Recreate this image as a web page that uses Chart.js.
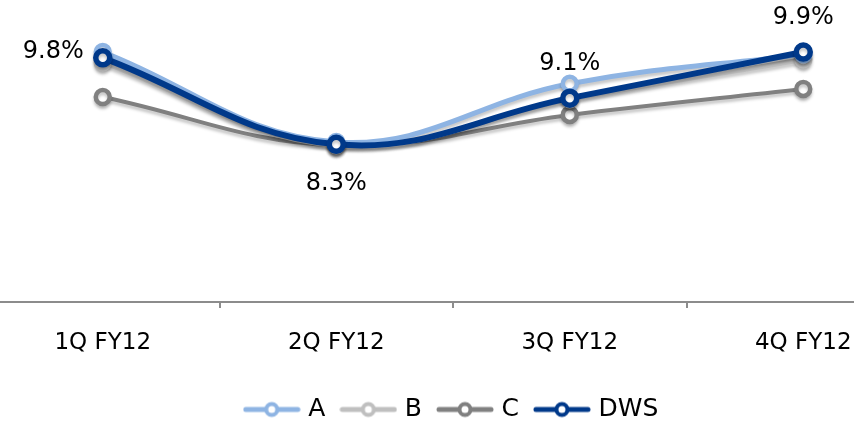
<!DOCTYPE html>
<html>
<head>
<meta charset="utf-8">
<script src="https://cdn.jsdelivr.net/npm/chart.js@4.4.0/dist/chart.umd.min.js"></script>
<style>
html, body { margin: 0; padding: 0; background: #fff; overflow: hidden; }
#wrap { position: absolute; left: -14px; top: 0; width: 934px; height: 423px; }
</style>
</head>
<body>
<div id="wrap"><canvas id="myChart"></canvas></div>
<script>
const quarters = ['1Q FY12', '2Q FY12', '3Q FY12', '4Q FY12'];
const seriesA = [9.90, 8.34, 9.35, 9.86];
const seriesB = [9.72, 8.28, 9.08, 9.77];
const seriesC = [9.12, 8.28, 8.81, 9.26];
const seriesDWS = [9.8, 8.3, 9.1, 9.9];
const dwsLabels = ['9.8%', '8.3%', '9.1%', '9.9%'];

const FONT = '"DejaVu Sans", sans-serif';

// little line + ring used as legend marker
const legendMarker = (color) => {
  const c = document.createElement('canvas');
  c.width = 58; c.height = 20;
  const g = c.getContext('2d');
  g.strokeStyle = color;
  g.lineWidth = 5;
  g.lineCap = 'round';
  g.beginPath(); g.moveTo(3, 10); g.lineTo(55, 10); g.stroke();
  g.beginPath(); g.arc(29, 10, 5.5, 0, Math.PI * 2);
  g.fillStyle = '#fff'; g.fill();
  g.lineWidth = 4; g.stroke();
  return c;
};

const line = (label, data, color, width, ptBorder, order) => ({
  label: label,
  data: data,
  borderColor: color,
  backgroundColor: color,
  borderWidth: width,
  tension: 0.4,
  pointRadius: 7,
  pointBorderWidth: ptBorder,
  pointBackgroundColor: '#fff',
  pointBorderColor: color,
  order: order,
  clip: false,
  marker: legendMarker(color)
});

// DWS values printed beside its points
const valueLabels = {
  id: 'valueLabels',
  afterDatasetsDraw(chart) {
    const ctx = chart.ctx;
    const meta = chart.getDatasetMeta(3);
    const offs = [[-19, -6, 'right'], [0, 39, 'center'], [0, -34, 'center'], [0, -34, 'center']];
    ctx.save();
    ctx.font = '24px ' + FONT;
    ctx.fillStyle = '#000';
    ctx.textBaseline = 'middle';
    meta.data.forEach((pt, i) => {
      ctx.textAlign = offs[i][2];
      ctx.fillText(dwsLabels[i], pt.x + offs[i][0], pt.y + offs[i][1]);
    });
    ctx.restore();
  }
};

// soft drop shadow under the lines
const lineShadow = {
  id: 'lineShadow',
  beforeDatasetDraw(chart) {
    const ctx = chart.ctx;
    ctx.save();
    ctx.shadowColor = 'rgba(0,0,0,0.22)';
    ctx.shadowBlur = 3;
    ctx.shadowOffsetY = 3;
  },
  afterDatasetDraw(chart) {
    chart.ctx.restore();
  }
};

const ctx = document.getElementById('myChart');

new Chart(ctx, {
  type: 'line',
  data: {
    labels: quarters,
    datasets: [
      line('A', seriesA, '#8EB4E3', 5, 4.5, 1),
      line('B', seriesB, '#BFBFBF', 5, 4.5, 2),
      line('C', seriesC, '#808080', 4, 4.5, 3),
      line('DWS', seriesDWS, '#00398A', 6, 5.5, 0)
    ]
  },
  options: {
    responsive: true,
    maintainAspectRatio: false,
    animation: false,
    layout: { autoPadding: false, padding: { top: 0, bottom: -9, left: 0, right: 0 } },
    scales: {
      x: {
        offset: true,
        grid: {
          offset: true,
          drawOnChartArea: false,
          drawTicks: true,
          tickLength: 6,
          color: '#8c8c8c',
          lineWidth: 2
        },
        border: { display: true, color: '#8c8c8c', width: 2 },
        ticks: {
          color: '#000',
          padding: 18,
          font: { family: FONT, size: 23, lineHeight: 1.48 }
        }
      },
      y: {
        display: false,
        min: 5.565,
        max: 10.803
      }
    },
    plugins: {
      tooltip: { enabled: false },
      legend: {
        position: 'bottom',
        labels: {
          usePointStyle: true,
          pointStyleWidth: 48,
          padding: 19,
          color: '#000',
          font: { family: FONT, size: 25 },
          sort: (a, b) => a.datasetIndex - b.datasetIndex,
          generateLabels(chart) {
            return chart.data.datasets.map((ds, i) => ({
              text: ds.label,
              datasetIndex: i,
              pointStyle: ds.marker,
              fillStyle: ds.borderColor,
              strokeStyle: ds.borderColor,
              lineWidth: 0,
              hidden: false,
              fontColor: '#000'
            }));
          }
        }
      }
    }
  },
  plugins: [lineShadow, valueLabels]
});
</script>
</body>
</html>
